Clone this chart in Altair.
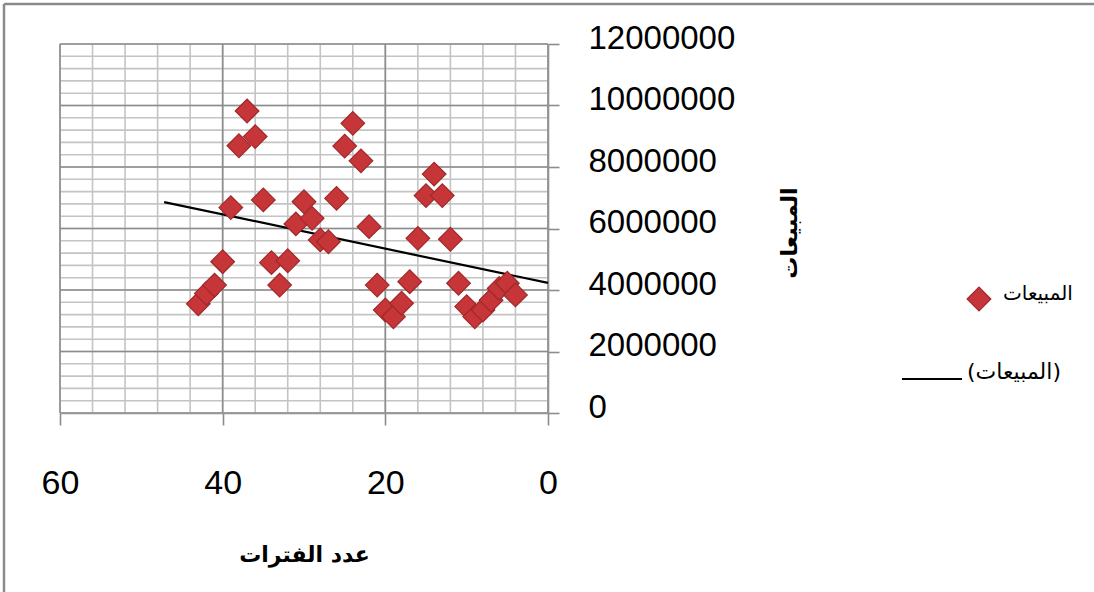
import altair as alt
import pandas as pd

# ---- data ----
periods = [43, 42, 41, 40, 39, 38, 37, 36, 35, 34, 33, 32, 31, 30, 29, 28, 27, 26, 25, 24,
           23, 22, 21, 20, 19, 18, 17, 16, 15, 14, 13, 12, 11, 10, 9, 8, 7, 6, 5, 4]
sales = [3550000, 3890000, 4160000, 4920000, 6680000, 8690000, 9820000, 8990000, 6930000, 4890000,
         4160000, 4950000, 6150000, 6870000, 6330000, 5630000, 5570000, 6980000, 8680000, 9420000,
         8200000, 6060000, 4160000, 3350000, 3130000, 3570000, 4270000, 5680000, 7070000, 7770000,
         7070000, 5650000, 4220000, 3460000, 3130000, 3350000, 3670000, 4050000, 4220000, 3840000]
trend_x = [47.2, 0]
trend_y = [6860000, 4230000]

x_major = [0, 20, 40, 60]
x_minor = [v for v in range(0, 61, 4)]
y_major = [v * 2000000 for v in range(0, 7)]
y_minor = [v * 400000 for v in range(0, 31)]

series_label = "المبيعات"
trend_label = "(المبيعات)"
x_title = "عدد الفترات"
y_title = "المبيعات"

# ---- layout ----
L, T, R, B = 60, 44, 548, 413
W, H = R - L, B - T

pts = pd.DataFrame({"x": periods, "y": sales})
trend = pd.DataFrame({"x": trend_x, "y": trend_y})

xs = alt.Scale(domain=[0, 60], reverse=True, nice=False, zero=False)
ys = alt.Scale(domain=[0, 12000000], nice=False)

AX_FONT = "Liberation Sans Narrow, Liberation Sans, sans-serif"
AR_FONT = "DejaVu Sans, sans-serif"
GRID_MINOR = "#c4c4c4"
GRID_MAJOR = "#8c8c8c"

x_axis = alt.Axis(values=x_major, orient="bottom", grid=False, tickSize=12,
                  tickColor=GRID_MAJOR, tickWidth=1.6, domainColor=GRID_MAJOR,
                  domainWidth=1.6, labelFont=AX_FONT, labelFontSize=34,
                  labelColor="black", labelPadding=41, labelFlush=False,
                  titleFont=AR_FONT, titleFontSize=22, titleFontWeight="bold",
                  titleColor="black", titlePadding=44)
y_axis = alt.Axis(values=y_major, orient="right", grid=False, tickSize=11,
                  tickColor=GRID_MAJOR, tickWidth=1.6, domainColor=GRID_MAJOR,
                  domainWidth=1.6, labelFont=AX_FONT, labelFontSize=33,
                  labelColor="black", labelPadding=29, labelAlign="left",
                  labelBaseline="middle", labelOffset=-6, labelFlush=False,
                  format="d", titleFont=AR_FONT, titleFontSize=22,
                  titleFontWeight="bold", titleColor="black", titleAngle=270,
                  titleX=241, titleY=H / 2 + 4, titleAlign="center",
                  titleBaseline="middle")


def X(field):
    return alt.X(field, scale=xs, title=x_title, axis=x_axis)


def Y(field):
    return alt.Y(field, scale=ys, title=y_title, axis=y_axis)


xminor = alt.Chart(pd.DataFrame({"v": x_minor})).mark_rule(color=GRID_MINOR, strokeWidth=1.6).encode(
    x=X("v:Q"))
yminor = alt.Chart(pd.DataFrame({"v": y_minor})).mark_rule(color=GRID_MINOR, strokeWidth=1.6).encode(
    y=Y("v:Q"))
xmajor = alt.Chart(pd.DataFrame({"v": x_major})).mark_rule(color=GRID_MAJOR, strokeWidth=1.6).encode(
    x=X("v:Q"))
ymajor = alt.Chart(pd.DataFrame({"v": y_major})).mark_rule(color=GRID_MAJOR, strokeWidth=1.6).encode(
    y=Y("v:Q"))

trend_line = alt.Chart(trend).mark_line(color="black", strokeWidth=2.2).encode(
    x=X("x:Q"), y=Y("y:Q"))

points = alt.Chart(pts).mark_point(
    shape="diamond", filled=True, size=560, fill="#c63638", stroke="#a0282b",
    strokeWidth=1.2, opacity=1,
).encode(x=X("x:Q"), y=Y("y:Q"))

# ---- legend (manual) ----
leg_pt = alt.Chart(pd.DataFrame({"t": [series_label]})).mark_point(
    shape="diamond", filled=True, size=560, fill="#c63638", stroke="#a0282b",
    strokeWidth=1.2, opacity=1).encode(x=alt.value(979 - L), y=alt.value(299 - T))
leg_txt1 = alt.Chart(pd.DataFrame({"t": [series_label]})).mark_text(
    align="left", baseline="middle", font=AR_FONT, fontSize=20, color="black").encode(
    x=alt.value(1003 - L), y=alt.value(294 - T), text="t:N")
leg_line = alt.Chart(pd.DataFrame({"t": [trend_label]})).mark_rule(
    color="black", strokeWidth=2).encode(
    x=alt.value(902 - L), x2=alt.value(962 - L), y=alt.value(379 - T))
leg_txt2 = alt.Chart(pd.DataFrame({"t": [trend_label]})).mark_text(
    align="left", baseline="middle", font=AR_FONT, fontSize=22, color="black").encode(
    x=alt.value(967 - L), y=alt.value(372 - T), text="t:N")

# ---- outer frame (top and left edges visible) ----
frame_top = alt.Chart(pd.DataFrame({"a": [0]})).mark_rule(color="#8a8a8a", strokeWidth=2.5).encode(
    x=alt.value(4 - L), x2=alt.value(1100 - L), y=alt.value(4 - T))
frame_left = alt.Chart(pd.DataFrame({"a": [0]})).mark_rule(color="#8a8a8a", strokeWidth=2.5).encode(
    x=alt.value(4 - L), y=alt.value(4 - T), y2=alt.value(600 - T))

chart = alt.layer(
    xminor, yminor, xmajor, ymajor, trend_line, points,
    leg_pt, leg_txt1, leg_line, leg_txt2, frame_top, frame_left,
).properties(
    width=W, height=H,
    padding={"left": L, "top": T, "right": 1094 - R, "bottom": 592 - B},
    autosize=alt.AutoSizeParams(type="none"),
    background="white",
).configure_view(stroke=None)

chart.save("out.html", embed_options={"renderer": "svg", "actions": False})
